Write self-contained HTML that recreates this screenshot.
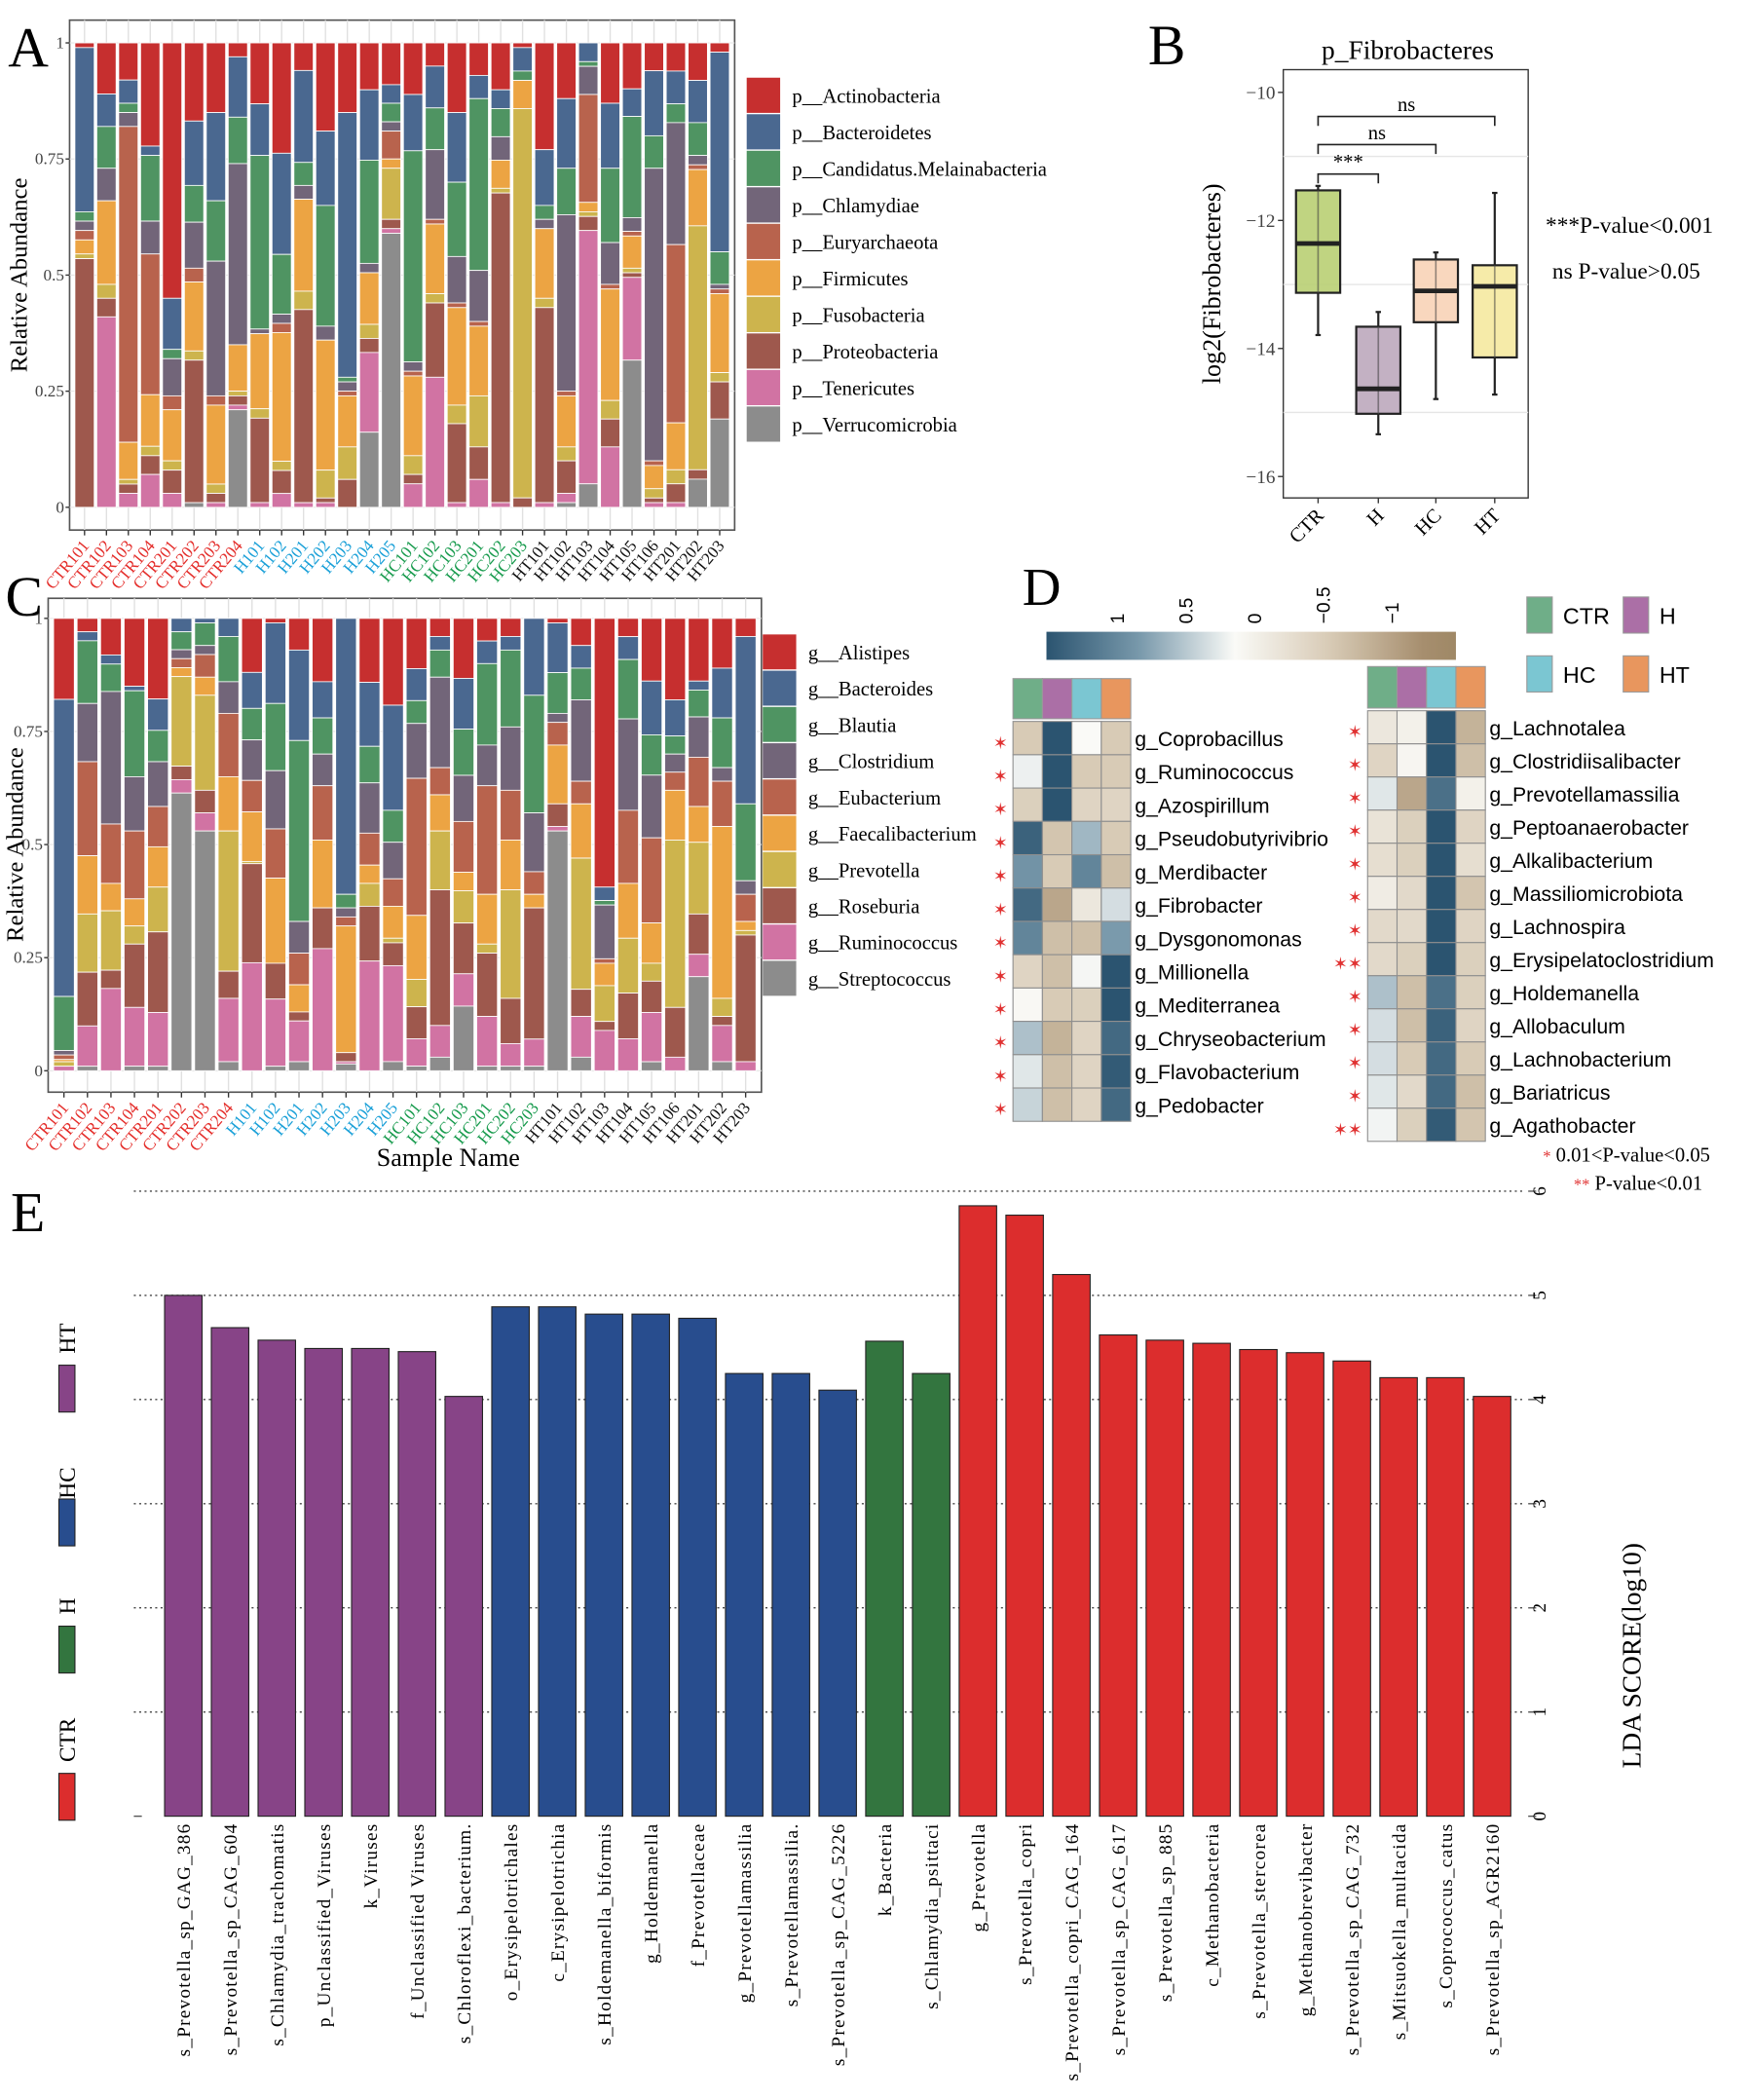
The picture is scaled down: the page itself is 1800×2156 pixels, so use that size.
<!DOCTYPE html>
<html><head><meta charset="utf-8"><style>
html,body{margin:0;padding:0;background:#fff}
svg{display:block}
.serif{font-family:"Liberation Serif",serif}
.sans{font-family:"Liberation Sans",sans-serif}
</style></head><body>
<svg id="fig" width="1800" height="2156" viewBox="0 0 1310 1569" xmlns="http://www.w3.org/2000/svg">
<g id="pA"></g>
<g id="pB"></g>
<g id="pC"></g>
<g id="pD"></g>
<g id="pE"></g>
</svg>
<script>
// ---------- DATA ----------
const samples = ["CTR101","CTR102","CTR103","CTR104","CTR201","CTR202","CTR203","CTR204","H101","H102","H201","H202","H203","H204","H205","HC101","HC102","HC103","HC201","HC202","HC203","HT101","HT102","HT103","HT104","HT105","HT106","HT201","HT202","HT203"];
const phyla = ["p__Actinobacteria","p__Bacteroidetes","p__Candidatus.Melainabacteria","p__Chlamydiae","p__Euryarchaeota","p__Firmicutes","p__Fusobacteria","p__Proteobacteria","p__Tenericutes","p__Verrucomicrobia"];
const actino = [1,11,8,22,55,17,15,3,13,24,6,19,15,10,9,11,5,15,7,10,1,23,12,0,13,10,6,6,8,2];
const bactero = [35,7,5,2,11,14,19,13,11,22,20,16,57,15,4,12,9,15,5,4,5,12,15,4,14,6,14,7,9,43];
const candid = [2,9,2,14,2,8,13,10,37,13,5,26,1,22,4,45,9,16,37,6,2,3,10,1,16,22,7,4,7,7];
const chlamy = [2,7,3,7,8,10,29,39,1,2,3,3,2,2,2,2,15,10,11,5,0,2,38,6,9,3,63,26,2,1];
const euryar = [2,0,68,30,3,3,2,0,0,2,0,0,1,0,6,1,1,1,1,0,0,0,1,23,1,1,1,38,1,1];
const firmic = [3,18,8,11,11,15,17,10,16,28,20,28,11,11,2,17,15,21,15,6,6,15,11,2,24,7,5,10,12,17];
const fusoba = [1,3,1,2,2,2,2,1,2,2,4,6,7,3,11,4,2,4,11,1,83,2,3,1,4,1,2,3,52,2];
const proteo = [53,4,2,4,5,31,2,2,18,5,42,1,6,3,2,2,16,17,7,66,2,42,7,3,6,1,1,4,2,8];
const teneri = [0,41,3,7,3,0,1,1,1,3,1,1,0,17,1,5,28,1,6,1,0,1,2,54,13,18,1,1,0,0];
const verruc = [0,0,0,0,0,1,0,21,0,0,0,0,0,16,59,0,0,0,0,0,0,0,1,5,0,32,0,0,6,19];

const genera = ["g__Alistipes","g__Bacteroides","g__Blautia","g__Clostridium","g__Eubacterium","g__Faecalibacterium","g__Prevotella","g__Roseburia","g__Ruminococcus","g__Streptococcus"];
const alistipes = [18,3,8,15,18,0,0,0,12,1,7,14,0,14,19,11,4,13,5,4,0,1,6,60,4,14,18,14,11,4];
const bacteroides = [66,2,2,1,7,3,1,4,8,18,20,8,61,14,23,7,3,11,5,3,17,11,5,3,5,12,8,2,11,37];
const blautia = [12,14,6,19,7,4,5,10,7,15,40,8,3,8,7,5,6,10,18,17,26,9,7,1,13,9,4,6,11,17];
const clostridium = [1,13,29,12,10,2,2,7,9,13,7,7,2,11,8,12,20,10,9,14,13,2,18,12,20,14,4,9,3,3];
const eubacterium = [1,21,13,15,9,2,5,14,7,11,7,12,2,7,6,30,6,11,24,11,5,5,5,1,16,19,4,11,10,6];
const faecali = [0.5,13,6,6,9,2,4,12,11,19,6,15,28,4,7,14,8,4,11,11,3,13,12,5,12,9,11,8,38,2];
const prevotella = [1,13,13,4,10,20,21,31,0.5,0,0,0,0,5,1,6,13,7,2,24,0,0,29,8,12,4,37,16,4,1];
const roseburia = [0,12,4,14,18,3,5,6,22,8,2,9,2,12,5,7,30,11,14,10,29,5,6,2,10,7,11,9,2,28];
const ruminococcus = [1,9,18,13,12,3,4,14,24,15,9,27,0.5,24,21,6,7,7,11,5,6,1,9,9,7,11,3,5,8,2];
const streptococcus = [0,1,0,1,1,62,53,2,0,1,2,0,1.5,0,2,1,3,14,1,1,1,53,3,0,0,2,0,21,2,0];

const boxGroups = ["CTR","H","HC","HT"];
const boxMin = [-13.79,-15.34,-14.79,-14.72];
const boxQ1 = [-13.13,-15.02,-13.59,-14.14];
const boxMed = [-12.36,-14.63,-13.10,-13.03];
const boxQ3 = [-11.53,-13.66,-12.61,-12.70];
const boxMax = [-11.46,-13.43,-12.50,-11.57];
const boxTicks = [-10,-12,-14,-16];

const heatLeftNames = ["g_Coprobacillus","g_Ruminococcus","g_Azospirillum","g_Pseudobutyrivibrio","g_Merdibacter","g_Fibrobacter","g_Dysgonomonas","g_Millionella","g_Mediterranea","g_Chryseobacterium","g_Flavobacterium","g_Pedobacter"];
const heatLeftCTR = [-0.5,0.05,-0.45,0.9,0.55,0.85,0.65,-0.4,-0.02,0.3,0.1,0.2];
const heatLeftH = [1,1,1,-0.55,-0.5,-0.8,-0.6,-0.6,-0.5,-0.7,-0.6,-0.6];
const heatLeftHC = [0,-0.5,-0.4,0.35,0.65,-0.2,-0.6,0.02,-0.45,-0.4,-0.4,-0.4];
const heatLeftHT = [-0.5,-0.5,-0.4,-0.5,-0.6,0.15,0.5,1,1,0.85,0.95,0.85];
const heatLeftStars = ["*","*","*","*","*","*","*","*","*","*","*","*"];
const heatRightNames = ["g_Lachnotalea","g_Clostridiisalibacter","g_Prevotellamassilia","g_Peptoanaerobacter","g_Alkalibacterium","g_Massiliomicrobiota","g_Lachnospira","g_Erysipelatoclostridium","g_Holdemanella","g_Allobaculum","g_Lachnobacterium","g_Bariatricus","g_Agathobacter"];
const heatRightCTR = [-0.2,-0.4,0.1,-0.25,-0.3,-0.15,-0.35,-0.35,0.3,0.15,0.15,0.1,0.03];
const heatRightH = [-0.1,-0.05,-0.8,-0.45,-0.45,-0.35,-0.35,-0.45,-0.6,-0.6,-0.5,-0.35,-0.45];
const heatRightHC = [1,1,0.8,1,1,1,1,1,0.8,0.9,0.85,0.85,0.95];
const heatRightHT = [-0.7,-0.6,-0.1,-0.4,-0.3,-0.55,-0.4,-0.45,-0.45,-0.4,-0.5,-0.6,-0.55];
const heatRightStars = ["*","*","*","*","*","*","*","**","*","*","*","*","**"];
const colorbarTicks = [1,0.5,0,-0.5,-1];

const ldaLabels = ["s_Prevotella_sp_GAG_386","s_Prevotella_sp_CAG_604","s_Chlamydia_trachomatis","p_Unclassified_Viruses","k_Viruses","f_Unclassified Viruses","s_Chloroflexi_bacterium.","o_Erysipelotrichales","c_Erysipelotrichia","s_Holdemanella_biformis","g_Holdemanella","f_Prevotellaceae","g_Prevotellamassilia","s_Prevotellamassilia.","s_Prevotella_sp_CAG_5226","k_Bacteria","s_Chlamydia_psittaci","g_Prevotella","s_Prevotella_copri","s_Prevotella_copri_CAG_164","s_Prevotella_sp_CAG_617","s_Prevotella_sp_885","c_Methanobacteria","s_Prevotella_stercorea","g_Methanobrevibacter","s_Prevotella_sp_CAG_732","s_Mitsuokella_multacida","s_Coprococcus_catus","s_Prevotella_sp_AGR2160"];
const ldaScores = [5.00,4.69,4.57,4.49,4.49,4.46,4.03,4.89,4.89,4.82,4.82,4.78,4.25,4.25,4.09,4.56,4.25,5.86,5.77,5.20,4.62,4.57,4.54,4.48,4.45,4.37,4.21,4.21,4.03];
const ldaGroups = ["HT","HT","HT","HT","HT","HT","HT","HC","HC","HC","HC","HC","HC","HC","HC","H","H","CTR","CTR","CTR","CTR","CTR","CTR","CTR","CTR","CTR","CTR","CTR","CTR"];
const ldaTicks = [0,1,2,3,4,5,6];

// ---------- HELPERS ----------
const NS="http://www.w3.org/2000/svg";
function mk(parent,tag,attrs,text){const e=document.createElementNS(NS,tag);for(const k in attrs)e.setAttribute(k,attrs[k]);if(text!==undefined)e.textContent=text;parent.appendChild(e);return e;}
const stackColors=["#c62f2f","#4a6890","#4f9462","#726579","#b8634d","#eca443","#cdb44d","#9e584d","#d173a3","#8c8c8c"];
function sampleColor(s){if(s.startsWith("CTR"))return "#e42d2a";if(s.startsWith("HC"))return "#169a4c";if(s.startsWith("HT"))return "#111";return "#1aa0d8";}

function stacked(g,series,names,o){
  const x0=o.px0,x1=o.px1,y0=o.py0,y1=o.py1;
  mk(g,"rect",{x:x0,y:y0,width:x1-x0,height:y1-y0,fill:"#fff",stroke:"#555","stroke-width":1.2});
  const n=samples.length, step=(x1-x0-6)/n, bw=step*0.88;
  const yS=v=>o.yBot-(o.yBot-o.yTop)*v;
  for(let i=0;i<n;i++){const cx=x0+3+step*(i+0.5);mk(g,"line",{x1:cx,x2:cx,y1:y0,y2:y1,stroke:"#e0e0e0","stroke-width":1});}
  [0,0.25,0.5,0.75,1].forEach(v=>{mk(g,"line",{x1:x0,x2:x1,y1:yS(v),y2:yS(v),stroke:"#e6e6e6","stroke-width":0.8});});
  for(let i=0;i<n;i++){
    let tot=0;series.forEach(s=>tot+=s[i]);
    let cum=1;const cx=x0+3+step*(i+0.5);
    series.forEach((s,k)=>{
      const v=s[i]/tot; if(v<=0)return;
      const r=mk(g,"rect",{x:cx-bw/2,y:yS(cum),width:bw,height:yS(cum-v)-yS(cum),fill:stackColors[k],stroke:"#fff","stroke-width":0.6});
      
      
      cum-=v;
    });
    mk(g,"line",{x1:cx,x2:cx,y1:y1,y2:y1+4,stroke:"#333"});
    const t=mk(g,"text",{x:cx+4,y:y1+12,"text-anchor":"end",transform:`rotate(-50 ${cx+4} ${y1+12})`,"font-size":12.5,fill:sampleColor(samples[i]),class:"serif"},samples[i]);
    
    
  }
  [[1,"1"],[0.75,"0.75"],[0.5,"0.5"],[0.25,"0.25"],[0,"0"]].forEach(([v,l])=>{
    mk(g,"line",{x1:x0-3,x2:x0,y1:yS(v),y2:yS(v),stroke:"#333"});
    const t=mk(g,"text",{x:x0-4,y:yS(v)+4,"text-anchor":"end","font-size":12.5,fill:"#444",class:"serif"},l);
    
    
  });
  const yt=mk(g,"text",{x:o.ytx,y:(o.yTop+o.yBot)/2,"text-anchor":"middle",transform:`rotate(-90 ${o.ytx} ${(o.yTop+o.yBot)/2})`,"font-size":18,class:"serif"},"Relative Abundance");
  
  
  names.forEach((nm,k)=>{
    const yy=o.ly+k*o.lstep;
    const sw=mk(g,"rect",{x:o.lx,y:yy,width:25,height:o.lstep-1,fill:stackColors[k]});
    
    
    const t=mk(g,"text",{x:o.lx+34,y:yy+o.lstep/2+5,"font-size":15,class:"serif"},nm);
    
    
  });
}

// ---------- PANEL A ----------
const pA=document.getElementById("pA");
mk(pA,"text",{x:6,y:50,"font-size":42,class:"serif"},"A");
stacked(pA,[actino,bactero,candid,chlamy,euryar,firmic,fusoba,proteo,teneri,verruc],phyla,
 {px0:52,px1:549,py0:15,py1:396,yTop:32,yBot:379,ytx:20,lx:558,ly:58,lstep:27.3});

// ---------- PANEL C ----------
const pC=document.getElementById("pC");
mk(pC,"text",{x:4,y:460,"font-size":42,class:"serif"},"C");
stacked(pC,[alistipes,bacteroides,blautia,clostridium,eubacterium,faecali,prevotella,roseburia,ruminococcus,streptococcus],genera,
 {px0:36,px1:569,py0:447,py1:816,yTop:462,yBot:800,ytx:17,lx:570,ly:474,lstep:27.1});
const sn=mk(pC,"text",{x:335,y:871,"text-anchor":"middle","font-size":19,class:"serif"},"Sample Name");



// ---------- PANEL B ----------
const pB=document.getElementById("pB");
mk(pB,"text",{x:858,y:48,"font-size":42,class:"serif"},"B");
mk(pB,"text",{x:1052,y:44,"text-anchor":"middle","font-size":20,class:"serif"},"p_Fibrobacteres");
(function(){
  const x0=959,x1=1142,y0=52,y1=372;
  const yS=v=>69+(v-(-10))/(-6)*(356-69);
  const boxFill=["#b9cf73","#bca9bd","#f8d3b7","#f5e9a0"];
  const centers=[985,1030,1073,1117];
  mk(pB,"rect",{x:x0,y:y0,width:x1-x0,height:y1-y0,fill:"#fff",stroke:"#333","stroke-width":1});
  [-11,-13,-15].forEach(v=>mk(pB,"line",{x1:x0,x2:x1,y1:yS(v),y2:yS(v),stroke:"#e6e6e6","stroke-width":1}));
  boxTicks.forEach(v=>{mk(pB,"line",{x1:x0-4,x2:x0,y1:yS(v),y2:yS(v),stroke:"#333"});
    const t=mk(pB,"text",{x:x0-6,y:yS(v)+5,"text-anchor":"end","font-size":14,fill:"#444",class:"serif"},"\u2212"+Math.abs(v));
    
    });
  const cxs=[];
  boxGroups.forEach((gname,i)=>{
    const cx=centers[i];cxs.push(cx);const w=33;
    mk(pB,"line",{x1:cx,x2:cx,y1:yS(boxMax[i]),y2:yS(boxMin[i]),stroke:"#222","stroke-width":1.6});
    mk(pB,"line",{x1:cx-2,x2:cx+2,y1:yS(boxMax[i]),y2:yS(boxMax[i]),stroke:"#222","stroke-width":1.6});
    mk(pB,"line",{x1:cx-2,x2:cx+2,y1:yS(boxMin[i]),y2:yS(boxMin[i]),stroke:"#222","stroke-width":1.6});
    const b=mk(pB,"rect",{x:cx-w/2,y:yS(boxQ3[i]),width:w,height:yS(boxQ1[i])-yS(boxQ3[i]),fill:boxFill[i],"fill-opacity":0.9,stroke:"#222","stroke-width":1.6});
    
    
    mk(pB,"line",{x1:cx,x2:cx,y1:yS(boxQ3[i]),y2:yS(boxQ1[i]),stroke:"#555","stroke-width":1,"stroke-opacity":0.6});
    mk(pB,"line",{x1:cx-w/2,x2:cx+w/2,y1:yS(boxMed[i]),y2:yS(boxMed[i]),stroke:"#222","stroke-width":3.5});
    mk(pB,"line",{x1:cx,x2:cx,y1:y1,y2:y1+4,stroke:"#333"});
    const t=mk(pB,"text",{x:cx+5,y:y1+14,"text-anchor":"end",transform:`rotate(-45 ${cx+5} ${y1+14})`,"font-size":15,class:"serif"},gname);
    
    
  });
  const br=[[0,1,130,"***"],[0,2,108,"ns"],[0,3,87,"ns"]];
  br.forEach(([a,b,y,l])=>{
    mk(pB,"path",{d:`M${cxs[a]},${y+7} V${y} H${cxs[b]} V${y+7}`,fill:"none",stroke:"#222","stroke-width":1.2});
    mk(pB,"text",{x:(cxs[a]+cxs[b])/2,y:y-4,"text-anchor":"middle","font-size":15,class:"serif"},l);
  });
  const yt=mk(pB,"text",{x:0,y:0,"text-anchor":"middle",transform:`translate(912 212) rotate(-90)`,"font-size":19,class:"serif"},"log2(Fibrobacteres)");
  
  
  mk(pB,"text",{x:1155,y:174,"font-size":17,class:"serif"},"***P-value<0.001");
  mk(pB,"text",{x:1160,y:208,"font-size":17,class:"serif"},"ns  P-value>0.05");
})();

// ---------- PANEL D ----------
const pD=document.getElementById("pD");
mk(pD,"text",{x:764,y:452,"font-size":40,class:"serif"},"D");
function heatColor(v){
  const stops=[[1,[43,84,112]],[0.5,[122,154,172]],[0,[250,250,247]],[-0.5,[216,203,182]],[-1,[166,142,110]]];
  v=Math.max(-1,Math.min(1,v));
  for(let i=0;i<stops.length-1;i++){const [a,ca]=stops[i],[b,cb]=stops[i+1];
    if(v<=a&&v>=b){const t=(a-v)/(a-b);return `rgb(${ca.map((c,k)=>Math.round(c+(cb[k]-c)*t)).join(",")})`;}}
  return "#fff";
}
(function(){
  const defs=mk(pD,"defs",{});const lg=mk(defs,"linearGradient",{id:"cb",x1:0,x2:1,y1:0,y2:0});
  for(let i=0;i<=20;i++){const v=1-i*0.1;mk(lg,"stop",{offset:(i/20*0.92).toFixed(3),"stop-color":heatColor(v)});}
  mk(lg,"stop",{offset:1,"stop-color":"#9f8866"});
  const cb=mk(pD,"rect",{x:782,y:472,width:306,height:21,fill:"url(#cb)"});
  
  
  const cbx=v=>835+(1-v)/2*(1040-835);
  colorbarTicks.forEach(v=>{
    const x=cbx(v);
    const t=mk(pD,"text",{x:0,y:0,"font-size":14,class:"sans",transform:`translate(${x+5} 466) rotate(-90)`},(v<0?"\u2212":"")+Math.abs(v));
    
    
  });
  const grpCol=["#6fae88","#ab6fa6","#7bc6d2","#e8965e"];
  function heat(names,cols,stars,x0,hy,ry,rh){
    const cw=22;
    grpCol.forEach((c,k)=>mk(pD,"rect",{x:x0+k*cw,y:hy,width:cw,height:ry-hy-2,fill:c,stroke:"#999","stroke-width":0.8}));
    names.forEach((nm,r)=>{
      cols.forEach((col,k)=>{
        const c=mk(pD,"rect",{x:x0+k*cw,y:ry+r*rh,width:cw,height:rh,fill:heatColor(col[r]),stroke:"#8f8f8f","stroke-width":0.8});
        
        
      });
      const t=mk(pD,"text",{x:x0+4*cw+3,y:ry+r*rh+rh/2+6,"font-size":15.5,class:"sans"},nm);
      
      
      mk(pD,"text",{x:x0-4,y:ry+r*rh+rh/2+8,"text-anchor":"end","font-size":13,fill:"#e03030",class:"sans"},stars[r].replace(/\*/g,"\u2736"));
    });
  }
  heat(heatLeftNames,[heatLeftCTR,heatLeftH,heatLeftHC,heatLeftHT],heatLeftStars,757,507,539,24.9);
  heat(heatRightNames,[heatRightCTR,heatRightH,heatRightHC,heatRightHT],heatRightStars,1022,498,531,24.75);
  [["CTR",1141,446],["H",1213,446],["HC",1141,490],["HT",1213,490]].forEach(([l,x,y],k)=>{
    const s=mk(pD,"rect",{x:x,y:y,width:19,height:27,fill:grpCol[k],stroke:"#999","stroke-width":0.8});
    
    
    const t=mk(pD,"text",{x:x+27,y:y+20,"font-size":17,class:"sans"},l);
    
    
  });
  mk(pD,"text",{x:1153,y:868,"font-size":15,class:"serif"},"").innerHTML='<tspan fill="#e03030" font-size="12">*</tspan> 0.01&lt;P-value&lt;0.05';
  mk(pD,"text",{x:1176,y:889,"font-size":15,class:"serif"},"").innerHTML='<tspan fill="#e03030" font-size="12">**</tspan> P-value&lt;0.01';
})();

// ---------- PANEL E ----------
const pE=document.getElementById("pE");
mk(pE,"text",{x:8,y:920,"font-size":42,class:"serif"},"E");
(function(){
  const yS=v=>1357-v*(1357-890)/6;
  const gx0=100,gx1=1140;
  const gCol={HT:"#874487",HC:"#284d8e",H:"#33753f",CTR:"#dc2d2d"};
  ldaTicks.forEach(v=>{
    if(v>0)mk(pE,"line",{x1:gx0,x2:gx1,y1:yS(v),y2:yS(v),stroke:"#444","stroke-width":1,"stroke-dasharray":"1.5,2.5"});
    mk(pE,"line",{x1:gx1+2,x2:gx1+8,y1:yS(v),y2:yS(v),stroke:"#555"});
    const t=mk(pE,"text",{x:0,y:0,"font-size":14,class:"serif","text-anchor":"middle",transform:`translate(${gx1+15} ${yS(v)}) rotate(-90)`},String(v));
    
    
  });
  mk(pE,"line",{x1:gx0,x2:gx0+6,y1:yS(0),y2:yS(0),stroke:"#555"});
  const step=(1115-137)/28,bw=28;
  ldaLabels.forEach((lab,i)=>{
    const cx=137+step*i;
    const b=mk(pE,"rect",{x:cx-bw/2,y:yS(ldaScores[i]),width:bw,height:yS(0)-yS(ldaScores[i]),fill:gCol[ldaGroups[i]],stroke:"#222","stroke-width":0.8});
    
    
    const t=mk(pE,"text",{x:0,y:0,"font-size":14,"letter-spacing":0.9,class:"serif","text-anchor":"end",transform:`translate(${cx+5} 1362) rotate(-90)`},lab);
    
    
  });
  const yt=mk(pE,"text",{x:0,y:0,"font-size":20,class:"serif","text-anchor":"middle",transform:`translate(1226 1237) rotate(-90)`},"LDA SCORE(log10)");
  
  
  [["HT",1020,1000],["HC",1120,1108],["H",1215,1200],["CTR",1325,1300]].forEach(([l,y,ty])=>{
    const s=mk(pE,"rect",{x:44,y:y,width:12,height:35,fill:gCol[l],stroke:"#222","stroke-width":0.8});
    
    
    const t=mk(pE,"text",{x:0,y:0,"font-size":17,class:"serif","text-anchor":"middle",transform:`translate(56 ${ty}) rotate(-90)`},l);
    
    
  });
})();
</script>
</body></html>
